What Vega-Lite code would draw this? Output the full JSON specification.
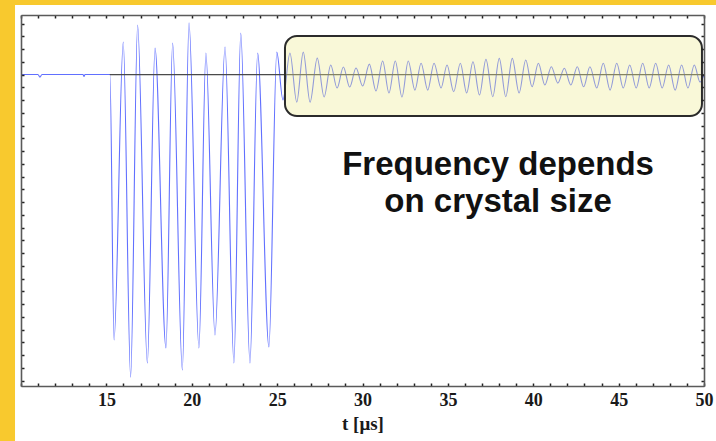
{
  "$schema": "https://vega.github.io/schema/vega-lite/v6.json",
  "width": 683,
  "height": 371,
  "autosize": {"type": "none"},
  "padding": {"left": 21, "top": 15, "right": 12, "bottom": 55},
  "background": "#F8C92E",
  "config": {
    "view": {"stroke": null},
    "axis": {"zindex": 2, "grid": false}
  },
  "datasets": {
    "signal": [
      {"t": 10.00, "v": 0}, {"t": 10.99, "v": 0}, {"t": 11.11, "v": -0.2}, {"t": 11.23, "v": 0},
      {"t": 13.63, "v": 0}, {"t": 13.69, "v": -0.15}, {"t": 13.75, "v": 0}, {"t": 15.21, "v": 0},
      {"t": 15.45, "v": -20.82}, {"t": 15.99, "v": 2.55}, {"t": 16.42, "v": -23.73}, {"t": 16.83, "v": 3.88},
      {"t": 17.40, "v": -22.63}, {"t": 17.85, "v": 2.08}, {"t": 18.49, "v": -21.45}, {"t": 18.88, "v": 2.47},
      {"t": 19.45, "v": -23.18}, {"t": 19.84, "v": 4.06}, {"t": 20.42, "v": -21.45}, {"t": 20.83, "v": 1.69},
      {"t": 21.36, "v": -20.43}, {"t": 21.95, "v": 2.16}, {"t": 22.47, "v": -22.63}, {"t": 22.87, "v": 3.25},
      {"t": 23.41, "v": -22.63}, {"t": 23.86, "v": 1.69}, {"t": 24.52, "v": -21.37}, {"t": 24.98, "v": 1.76},
      {"t": 25.34, "v": -2.0}, {"t": 25.75, "v": 1.69}, {"t": 26.15, "v": -2.16}, {"t": 26.53, "v": 1.76},
      {"t": 26.93, "v": -2.16}, {"t": 27.35, "v": 1.29}, {"t": 27.75, "v": -1.76}, {"t": 28.14, "v": 0.75},
      {"t": 28.51, "v": -1.06}, {"t": 28.88, "v": 0.59}, {"t": 29.25, "v": -0.98}, {"t": 29.62, "v": 0.51},
      {"t": 30.01, "v": -0.90}, {"t": 30.40, "v": 0.82}, {"t": 30.79, "v": -1.29}, {"t": 31.18, "v": 1.06},
      {"t": 31.55, "v": -1.45}, {"t": 31.92, "v": 1.06}, {"t": 32.31, "v": -1.76}, {"t": 32.68, "v": 1.06},
      {"t": 33.07, "v": -1.22}, {"t": 33.43, "v": 0.88}, {"t": 33.82, "v": -1.22}, {"t": 34.19, "v": 0.88},
      {"t": 34.60, "v": -1.06}, {"t": 34.95, "v": 0.75}, {"t": 35.34, "v": -1.35}, {"t": 35.73, "v": 0.88},
      {"t": 36.10, "v": -1.45}, {"t": 36.47, "v": 1.00}, {"t": 36.85, "v": -1.61}, {"t": 37.23, "v": 1.19},
      {"t": 37.63, "v": -1.74}, {"t": 38.01, "v": 1.27}, {"t": 38.39, "v": -1.74}, {"t": 38.77, "v": 1.27},
      {"t": 39.17, "v": -1.45}, {"t": 39.56, "v": 1.14}, {"t": 39.93, "v": -0.96}, {"t": 40.30, "v": 0.88},
      {"t": 40.68, "v": -0.82}, {"t": 41.06, "v": 0.61}, {"t": 41.44, "v": -0.67}, {"t": 41.82, "v": 0.49},
      {"t": 42.20, "v": -0.82}, {"t": 42.58, "v": 0.61}, {"t": 42.95, "v": -0.96}, {"t": 43.32, "v": 0.61},
      {"t": 43.72, "v": -1.06}, {"t": 44.10, "v": 0.88}, {"t": 44.50, "v": -1.22}, {"t": 44.89, "v": 0.88},
      {"t": 45.27, "v": -1.06}, {"t": 45.65, "v": 0.75}, {"t": 46.03, "v": -1.06}, {"t": 46.41, "v": 0.88},
      {"t": 46.79, "v": -1.06}, {"t": 47.17, "v": 0.88}, {"t": 47.55, "v": -1.06}, {"t": 47.93, "v": 0.75},
      {"t": 48.31, "v": -1.22}, {"t": 48.69, "v": 0.75}, {"t": 49.06, "v": -1.06}, {"t": 49.43, "v": 0.75},
      {"t": 49.77, "v": -0.59}, {"t": 50.00, "v": 0}
    ]
  },
  "resolve": {"axis": {"x": "independent", "y": "independent"}},
  "layer": [
    {
      "data": {"values": [{}]},
      "mark": {"type": "rect", "fill": "#FFFFFF", "clip": false},
      "encoding": {
        "x": {
          "datum": 9.65, "type": "quantitative",
          "scale": {"domain": [10, 50], "nice": false, "zero": false},
          "axis": {
            "orient": "bottom", "zindex": 2,
            "values": [10, 11, 12, 13, 14, 15, 16, 17, 18, 19, 20, 21, 22, 23, 24, 25, 26, 27, 28, 29, 30, 31, 32, 33, 34, 35, 36, 37, 38, 39, 40, 41, 42, 43, 44, 45, 46, 47, 48, 49, 50],
            "labelExpr": "datum.value % 5 == 0 && datum.value > 10 ? datum.label : ''",
            "labelFlush": false,
            "labelOverlap": false,
            "tickSize": -3, "tickWidth": 1.5, "tickColor": "#222222",
            "domainColor": "#5a5a5a", "domainWidth": 1.6,
            "labelFont": "Liberation Serif", "labelFontSize": 18, "labelFontWeight": "bold",
            "labelColor": "#1a1a1a", "labelPadding": 8,
            "title": "t [μs]",
            "titleFont": "Liberation Serif", "titleFontSize": 19, "titleFontWeight": "bold",
            "titleColor": "#1a1a1a", "titlePadding": 5
          }
        },
        "x2": {"datum": 51},
        "y": {
          "datum": 5.45, "type": "quantitative",
          "scale": {"domain": [-24.43, 4.67], "nice": false, "zero": false},
          "axis": {
            "orient": "left", "zindex": 2,
            "values": [-24, -23, -22, -21, -20, -19, -18, -17, -16, -15, -14, -13, -12, -11, -10, -9, -8, -7, -6, -5, -4, -3, -2, -1, 0, 1, 2, 3, 4],
            "labels": false, "title": null,
            "tickSize": -3, "tickWidth": 1.5, "tickColor": "#222222",
            "domainColor": "#5a5a5a", "domainWidth": 1.6
          }
        },
        "y2": {"datum": -29.5}
      }
    },
    {
      "data": {"name": "signal"},
      "mark": {"type": "line", "interpolate": "monotone", "stroke": "#3a4cff", "strokeWidth": 1.1, "opacity": 0.8},
      "encoding": {
        "x": {
          "field": "t", "type": "quantitative",
          "scale": {"domain": [10, 50], "nice": false, "zero": false},
          "axis": {
            "orient": "top", "zindex": 2,
            "values": [10, 11, 12, 13, 14, 15, 16, 17, 18, 19, 20, 21, 22, 23, 24, 25, 26, 27, 28, 29, 30, 31, 32, 33, 34, 35, 36, 37, 38, 39, 40, 41, 42, 43, 44, 45, 46, 47, 48, 49, 50],
            "labels": false, "title": null,
            "tickSize": -3, "tickWidth": 1.5, "tickColor": "#222222",
            "domainColor": "#5a5a5a", "domainWidth": 1.6
          }
        },
        "y": {
          "field": "v", "type": "quantitative",
          "scale": {"domain": [-24.43, 4.67], "nice": false, "zero": false},
          "axis": {
            "orient": "right", "zindex": 2,
            "values": [-24, -23, -22, -21, -20, -19, -18, -17, -16, -15, -14, -13, -12, -11, -10, -9, -8, -7, -6, -5, -4, -3, -2, -1, 0, 1, 2, 3, 4],
            "labels": false, "title": null,
            "tickSize": -3, "tickWidth": 1.5, "tickColor": "#222222",
            "domainColor": "#5a5a5a", "domainWidth": 1.6
          }
        }
      }
    },
    {
      "data": {"values": [{}]},
      "mark": {"type": "rule", "stroke": "#4a4a4a", "strokeWidth": 1.2},
      "encoding": {
        "x": {"datum": 15.2, "type": "quantitative", "scale": {"domain": [10, 50], "nice": false, "zero": false}, "axis": null},
        "x2": {"datum": 50},
        "y": {"datum": 0, "type": "quantitative", "scale": {"domain": [-24.43, 4.67], "nice": false, "zero": false}, "axis": null}
      }
    },
    {
      "data": {"values": [{}]},
      "mark": {"type": "rect", "fill": "#EEEA90", "fillOpacity": 0.35, "stroke": "#2b2b2b", "strokeWidth": 2, "strokeOpacity": 1, "cornerRadius": 12},
      "encoding": {
        "x": {"datum": 25.46, "type": "quantitative", "scale": {"domain": [10, 50], "nice": false, "zero": false}, "axis": null},
        "x2": {"datum": 49.88},
        "y": {"datum": 3.02, "type": "quantitative", "scale": {"domain": [-24.43, 4.67], "nice": false, "zero": false}, "axis": null},
        "y2": {"datum": -3.25}
      }
    },
    {
      "data": {"values": [{}]},
      "mark": {
        "type": "text", "text": ["Frequency depends", "on crystal size"],
        "font": "Liberation Sans", "fontSize": 33, "fontWeight": "bold", "lineHeight": 37,
        "align": "center", "baseline": "alphabetic", "color": "#111111"
      },
      "encoding": {
        "x": {"datum": 37.94, "type": "quantitative", "scale": {"domain": [10, 50], "nice": false, "zero": false}, "axis": null},
        "y": {"datum": -7.88, "type": "quantitative", "scale": {"domain": [-24.43, 4.67], "nice": false, "zero": false}, "axis": null}
      }
    }
  ]
}
